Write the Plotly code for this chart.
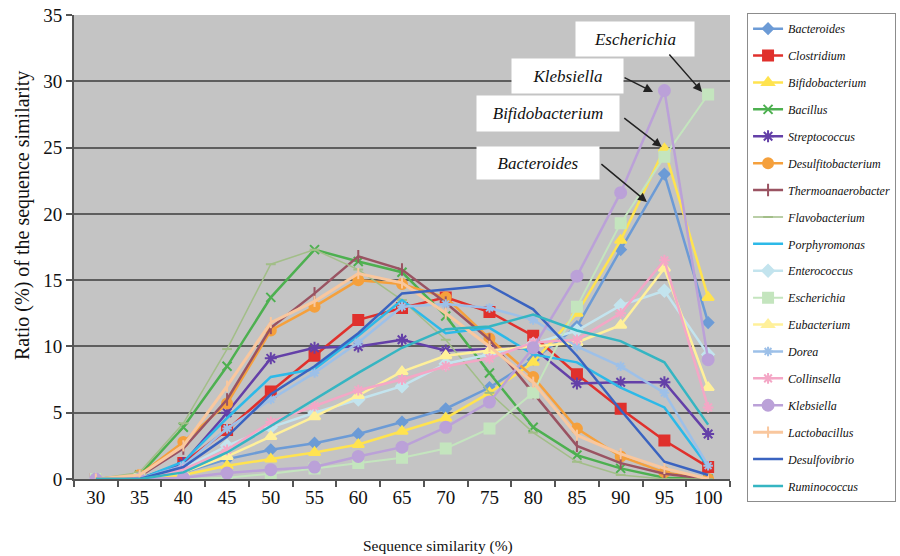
import plotly.graph_objects as go

similarity = [30, 35, 40, 45, 50, 55, 60, 65, 70, 75, 80, 85, 90, 95, 100]

bacteroides = [0, 0, 0.5, 1.5, 2.2, 2.7, 3.4, 4.3, 5.3, 6.9, 9.0, 11.5, 17.3, 23.0, 11.8]
clostridium = [0, 0, 1.2, 3.7, 6.6, 9.3, 12.0, 12.9, 13.7, 12.6, 10.8, 7.9, 5.3, 2.9, 0.9]
bifidobacterium = [0, 0, 0.3, 1.0, 1.5, 2.0, 2.6, 3.6, 4.6, 6.5, 8.8, 12.5, 18.0, 24.9, 13.7]
bacillus = [0, 0.3, 3.9, 8.5, 13.7, 17.3, 16.4, 15.6, 12.3, 8.0, 3.9, 1.8, 0.8, 0.1, 0]
streptococcus = [0, 0, 1.2, 5.0, 9.1, 9.9, 10.0, 10.5, 9.7, 9.8, 9.9, 7.2, 7.3, 7.3, 3.4]
desulfitobacterium = [0, 0.3, 2.8, 5.7, 11.2, 13.0, 15.0, 14.7, 13.7, 10.6, 7.7, 3.8, 1.7, 0.5, 0]
thermoanaerobacter = [0, 0.2, 2.3, 6.0, 11.4, 14.0, 16.8, 15.8, 13.3, 10.5, 6.5, 2.5, 1.2, 0.4, 0]
flavobacterium = [0, 0.5, 4.2, 9.8, 16.2, 17.3, 15.8, 13.5, 10.5, 6.5, 3.5, 1.3, 0.3, 0, 0]
porphyromonas = [0, 0, 1.3, 4.6, 7.7, 8.3, 10.8, 13.5, 11.0, 11.4, 9.4, 8.8, 6.9, 5.4, 0.9]
enterococcus = [0, 0, 0.8, 2.5, 3.9, 5.0, 6.0, 7.0, 8.7, 9.4, 10.2, 11.2, 13.1, 14.2, 9.4]
escherichia = [0, 0, 0, 0.1, 0.4, 0.8, 1.2, 1.6, 2.3, 3.8, 6.5, 13.0, 19.3, 24.3, 29.0]
eubacterium = [0, 0, 0.5, 1.7, 3.2, 4.7, 6.3, 8.1, 9.3, 9.7, 10.0, 10.3, 11.6, 15.9, 6.9]
dorea = [0, 0, 1.0, 3.8, 6.0, 8.0, 10.3, 13.0, 13.2, 12.9, 12.0, 10.0, 8.5, 6.5, 1.0]
collinsella = [0, 0, 0.7, 2.2, 4.3, 5.5, 6.7, 7.5, 8.5, 9.1, 10.3, 10.5, 12.5, 16.5, 5.4]
klebsiella = [0, 0, 0.1, 0.45, 0.7, 0.9, 1.7, 2.4, 3.9, 5.8, 9.9, 15.3, 21.6, 29.3, 9.0]
lactobacillus = [0, 0.3, 2.5, 7.0, 11.8, 13.4, 15.5, 14.8, 12.5, 10.0, 7.3, 3.3, 1.9, 0.8, 0]
desulfovibrio = [0, 0, 0.9, 3.2, 6.4, 8.5, 11.0, 14.0, 14.3, 14.6, 12.8, 9.3, 5.2, 1.3, 0.3]
ruminococcus = [0, 0, 0.5, 2.0, 4.0, 6.0, 8.0, 9.9, 11.3, 11.5, 12.4, 11.2, 10.4, 8.8, 4.1]

series = [
    ("Bacteroides", bacteroides, "#6C9BD6", "diamond", 8, 2.5),
    ("Clostridium", clostridium, "#E0302C", "square", 10, 2.5),
    ("Bifidobacterium", bifidobacterium, "#FFE34F", "triangle-up", 10, 2.5),
    ("Bacillus", bacillus, "#4DB050", "x-thin-open", 9, 2.5),
    ("Streptococcus", streptococcus, "#6440A8", "asterisk-open", 10, 2.5),
    ("Desulfitobacterium", desulfitobacterium, "#F5A03C", "circle", 10, 2.5),
    ("Thermoanaerobacter", thermoanaerobacter, "#9A5362", "line-ns-open", 9, 2.5),
    ("Flavobacterium", flavobacterium, "#A2BE88", "line-ew-open", 7, 1.5),
    ("Porphyromonas", porphyromonas, "#2DB9E8", None, 0, 2.5),
    ("Enterococcus", enterococcus, "#C3E4EE", "diamond", 9, 2.5),
    ("Escherichia", escherichia, "#C4E5BE", "square", 10, 2.0),
    ("Eubacterium", eubacterium, "#FFF09A", "triangle-up", 10, 2.5),
    ("Dorea", dorea, "#9DC0E8", "asterisk-open", 8, 2.5),
    ("Collinsella", collinsella, "#F4A7C6", "asterisk-open", 9, 2.5),
    ("Klebsiella", klebsiella, "#BBA1D8", "circle", 11, 2.5),
    ("Lactobacillus", lactobacillus, "#F9C79E", "line-ns-open", 8, 3.0),
    ("Desulfovibrio", desulfovibrio, "#3A63C0", None, 0, 2.5),
    ("Ruminococcus", ruminococcus, "#35B5C2", None, 0, 2.5),
]

fig = go.Figure()
for name, vals, color, sym, size, lw in series:
    if sym is None:
        mode = "lines"
        marker = None
    else:
        mode = "lines+markers"
        marker = dict(symbol=sym, size=size, color=color,
                      line=dict(color=color, width=2))
    fig.add_trace(go.Scatter(
        x=similarity, y=vals, name=name, mode=mode,
        line=dict(color=color, width=lw),
        marker=marker, legendgroup=name,
    ))

serif = "Liberation Serif, Times New Roman, serif"

fig.update_layout(
    width=900, height=556,
    margin=dict(l=74, r=170, t=15, b=77, autoexpand=False),
    paper_bgcolor="white",
    plot_bgcolor="#C4C4C4",
    font=dict(family=serif, color="#111111"),
    showlegend=True,
    legend=dict(
        x=1.026, xanchor="left", y=1.004, yanchor="top",
        bordercolor="#8C8C8C", borderwidth=1, bgcolor="white",
        font=dict(family=serif, size=12, style="italic", color="#111111"),
        tracegroupgap=7.9, traceorder="grouped", maxheight=520,
    ),
    xaxis=dict(
        range=[27.5, 102.5], automargin=False,
        tickvals=similarity, ticktext=[str(v) for v in similarity],
        ticks="", showgrid=False, zeroline=False,
        showline=True, linecolor="#555555", linewidth=2,
        tickfont=dict(size=19),
        minor=dict(tick0=27.5, dtick=5, ticks="outside", ticklen=6,
                   tickcolor="#555555", tickwidth=1.5, showgrid=False),
    ),
    yaxis=dict(
        range=[0, 35], dtick=5, tick0=0, automargin=False,
        ticks="outside", ticklen=6, tickcolor="#555555", tickwidth=1.5,
        showgrid=True, gridcolor="#5E5E5E", gridwidth=1.5,
        zeroline=False, showline=True, linecolor="#555555", linewidth=2,
        tickfont=dict(size=19),
    ),
)

# Axis titles (positioned as in the original figure)
fig.add_annotation(
    x=(438 - 74) / 656, y=-(546 - 479) / 464, xref="paper", yref="paper",
    text="Sequence similarity (%)", showarrow=False,
    xanchor="center", yanchor="middle",
    font=dict(family=serif, size=15.5, color="#111111"),
)
fig.add_annotation(
    x=(22 - 74) / 656, y=(479 - 216) / 464, xref="paper", yref="paper",
    text="Ratio (%) of the sequence similarity", showarrow=False, textangle=-90,
    xanchor="center", yanchor="middle",
    font=dict(family=serif, size=20, color="#111111"),
)

# Label boxes
boxes = [
    ("Escherichia", 91.6, 33.2, 116, 32),
    ("Klebsiella", 83.9, 30.4, 109, 32),
    ("Bifidobacterium", 81.7, 27.57, 140, 33),
    ("Bacteroides", 80.55, 23.84, 120, 30),
]
for text, bx, by, w, h in boxes:
    fig.add_annotation(
        x=bx, y=by, xref="x", yref="y", text="<i>" + text + "</i>",
        showarrow=False, bgcolor="white", width=w, height=h,
        font=dict(family=serif, size=17, color="#111111"),
    )

# Arrows
arrows = [
    (99.3, 29.2, -34, -39),
    (93.7, 29.2, -30, -15),
    (94.7, 25.04, -39, -30),
    (93.0, 20.9, -47, -39),
]
for hx, hy, ax, ay in arrows:
    fig.add_annotation(
        x=hx, y=hy, xref="x", yref="y", text="", showarrow=True,
        ax=ax, ay=ay, arrowhead=2, arrowsize=1.2, arrowwidth=1.5,
        arrowcolor="#222222",
    )

fig.write_html("out.html", config={"displayModeBar": False},
               post_script="document.body.style.margin='0';")
